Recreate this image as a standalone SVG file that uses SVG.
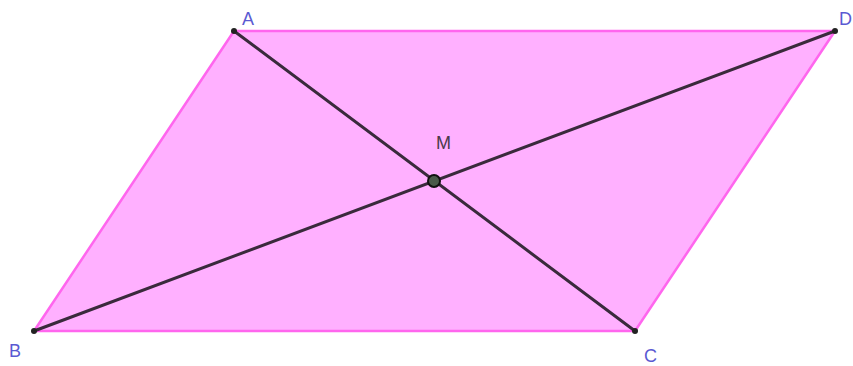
<svg xmlns="http://www.w3.org/2000/svg" width="853" height="366" viewBox="0 0 853 366">
<style>
.lbl{font-family:"Liberation Sans",Arial,sans-serif;font-size:18px;fill:#5a5ad2}
.diag{stroke:#3a2a3c;stroke-width:3;stroke-linecap:round}
</style>
<rect width="853" height="366" fill="#ffffff"/>
<g id="parallelogram">
<polygon points="234,31 835,31 635,331 34,331" fill="#ffb0ff" stroke="#ff66ee" stroke-width="2.5" stroke-linejoin="round"/>
</g>
<g id="connectors">
<line class="diag" x1="234" y1="31" x2="635" y2="331"/>
<line class="diag" x1="34" y1="331" x2="835" y2="31"/>
</g>
<g id="A"><circle cx="234" cy="31" r="3" fill="#222"/><text class="lbl" x="242" y="25">A</text></g>
<g id="D"><circle cx="835" cy="31" r="3" fill="#222"/><text class="lbl" x="839" y="25">D</text></g>
<g id="B"><circle cx="34" cy="331" r="3" fill="#222"/><text class="lbl" x="9" y="357">B</text></g>
<g id="C"><circle cx="635" cy="331" r="3" fill="#222"/><text class="lbl" x="644" y="362">C</text></g>
<g id="M"><circle cx="434" cy="181" r="6" fill="#4a5a4a" stroke="#111" stroke-width="2"/><text x="436" y="149" style="font-family:'Liberation Sans',Arial,sans-serif;font-size:18px;fill:#4a3a4a">M</text></g>
</svg>
